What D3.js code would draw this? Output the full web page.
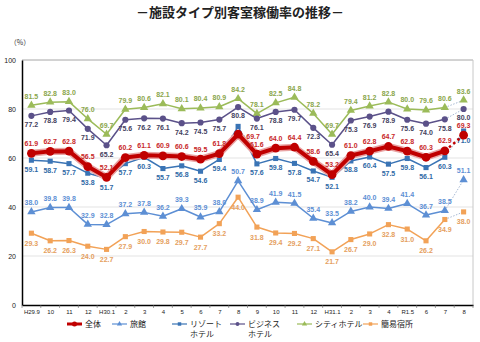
<!DOCTYPE html>
<html>
<head>
<meta charset="utf-8">
<script src="https://cdn.jsdelivr.net/npm/d3@7"></script>
<style>
  body { margin: 0; background: #fff; }
  text { font-family: "Liberation Sans", Arial, sans-serif; }
  .jp { font-family: "Noto Sans CJK JP", sans-serif; }
</style>
</head>
<body>
<svg id="chart" width="480" height="342"></svg>
<script>
// 月ラベル
const months = ["H29.9","10","11","12","H30.1","2","3","4","5","6","7","8","9","10","11","12","H31.1","2","3","4","R1.5","6","7","8"];
const yTicks = [0, 20, 40, 60, 80, 100];

// 施設タイプ別の稼働率 (%)
const zentai   = [61.9,62.7,62.8,56.5,52.1,60.2,61.1,60.9,60.6,59.5,61.8,69.7,61.6,64.0,64.4,58.6,53.2,61.0,62.8,64.7,62.8,60.3,62.9,69.3];
const ryokan   = [38.0,39.8,39.8,32.9,32.8,37.2,37.8,36.2,39.3,35.9,38.0,50.7,38.9,41.9,41.5,35.4,33.5,38.2,40.0,39.4,41.4,36.7,38.5,51.1];
const resort   = [59.1,58.7,57.7,53.8,51.7,57.7,60.3,55.7,56.8,54.6,59.4,72.9,57.6,59.8,57.8,54.7,52.1,58.8,60.4,57.5,59.8,56.1,60.3,71.0];
const business = [77.2,78.8,79.4,71.9,65.2,75.6,76.2,76.1,74.2,74.5,75.7,80.8,76.1,78.8,79.7,72.3,65.4,75.3,76.9,78.9,75.6,74.0,75.8,80.0];
const city     = [81.5,82.8,83.0,76.0,69.7,79.9,80.6,82.1,80.1,80.4,80.9,84.2,78.1,82.5,84.8,78.2,69.7,79.4,81.2,82.8,80.0,79.6,80.6,83.6];
const kani     = [29.3,26.2,26.3,24.0,22.7,27.9,30.0,29.8,29.7,27.7,33.2,44.0,31.8,29.4,29.2,27.1,21.7,26.7,29.0,32.8,31.0,26.2,34.9,38.0];

const series = [
  { key: "city",     name: ["シティホテル"],   values: city,     color: "#9bbb59", label: "#8aa64c", sym: d3.symbolTriangle, size: 30, w: 1.5, dy: -9 },
  { key: "business", name: ["ビジネス","ホテル"], values: business, color: "#5b5189", label: "#44415e", sym: d3.symbolCircle,   size: 30, w: 1.5, dy: 9 },
  { key: "resort",   name: ["リゾート","ホテル"], values: resort,   color: "#3a74b5", label: "#2f69a6", sym: d3.symbolSquare,   size: 26, w: 1.5, dy: 9 },
  { key: "ryokan",   name: ["旅館"],           values: ryokan,   color: "#5d8fd4", label: "#5d8fd4", sym: d3.symbolTriangle, size: 30, w: 1.5, dy: -9 },
  { key: "kani",     name: ["簡易宿所"],       values: kani,     color: "#f2a257", label: "#e5a060", sym: d3.symbolSquare,   size: 26, w: 1.5, dy: 10 },
  { key: "zentai",   name: ["全体"],           values: zentai,   color: "#c00000", label: "#c8282a", sym: d3.symbolCircle,   size: 60, w: 4,   dy: -10 }
];

// 個別のラベル位置調整
const labelShift = {
  "zentai-11": [15, 12],
  "resort-11": [0, 2]
};

const margin = { top: 60, right: 7, bottom: 37, left: 22 };
const W = 480, H = 342;
const svg = d3.select("#chart");

const x = d3.scalePoint().domain(d3.range(months.length)).range([margin.left, W - margin.right]).padding(0.5);
const y = d3.scaleLinear().domain([0, 100]).range([H - margin.bottom, margin.top]);

// タイトル
svg.append("text").attr("class", "jp")
  .attr("x", 240).attr("y", 17).attr("text-anchor", "middle")
  .attr("font-size", 13).attr("font-weight", "bold").attr("fill", "#222")
  .text("－施設タイプ別客室稼働率の推移－");

svg.append("text").attr("class", "jp")
  .attr("x", 20).attr("y", 45).attr("text-anchor", "middle")
  .attr("font-size", 7).attr("fill", "#333").text("（%）");

// グリッド
svg.append("g").selectAll("line").data(yTicks.filter(d => d > 0)).join("line")
  .attr("x1", margin.left).attr("x2", W - margin.right)
  .attr("y1", d => y(d)).attr("y2", d => y(d))
  .attr("stroke", d => d === 100 ? "#a6a6a6" : "#e3e3e3").attr("stroke-width", 1);

svg.append("line")
  .attr("x1", W - margin.right).attr("x2", W - margin.right)
  .attr("y1", y(100)).attr("y2", y(0)).attr("stroke", "#c8c8c8");

// 軸
const axisY = d3.axisLeft(y).tickValues(yTicks).tickSize(0).tickPadding(6);
const gy = svg.append("g").attr("transform", `translate(${margin.left},0)`).call(axisY);
gy.select(".domain").attr("stroke", "#000").attr("stroke-width", 1.5);
gy.selectAll("text").attr("font-size", 7).attr("fill", "#222");

const axisX = d3.axisBottom(x).tickFormat(i => months[i]).tickSize(0).tickPadding(5);
const gx = svg.append("g").attr("transform", `translate(0,${y(0)})`).call(axisX);
gx.select(".domain").attr("stroke", "#000").attr("stroke-width", 1.5);
gx.selectAll("text").attr("font-size", 6).attr("fill", "#222");

// 区切り目盛
const step = x.step();
svg.append("g").selectAll("line").data(d3.range(months.length + 1)).join("line")
  .attr("x1", d => margin.left + d * step).attr("x2", d => margin.left + d * step)
  .attr("y1", y(0)).attr("y2", y(0) + 3).attr("stroke", "#666").attr("stroke-width", 0.6);

// 系列
const last = months.length - 1;
const line = d3.line().x((d, i) => x(i)).y(d => y(d));

series.forEach(s => {
  const g = svg.append("g");
  const solid = s.values.slice(0, last);
  if (s.key === "zentai") {
    g.append("path").attr("d", line(solid)).attr("fill", "none")
      .attr("stroke", "#e9a3a3").attr("stroke-width", 7).attr("stroke-linejoin", "round");
  }
  g.append("path").attr("d", line(solid)).attr("fill", "none")
    .attr("stroke", s.color).attr("stroke-width", s.w).attr("stroke-linejoin", "round");
  g.append("line")
    .attr("x1", x(last - 1)).attr("y1", y(s.values[last - 1]))
    .attr("x2", x(last)).attr("y2", y(s.values[last]))
    .attr("stroke", s.key === "zentai" ? s.color : "#8fa6c8")
    .attr("stroke-width", s.key === "zentai" ? 2.5 : 0.8)
    .attr("stroke-dasharray", s.key === "zentai" ? "2.5,3" : "1.5,1.5");

  g.selectAll("path.mk").data(s.values).join("path").attr("class", "mk")
    .attr("transform", (d, i) => `translate(${x(i)},${y(d)})`)
    .attr("d", d3.symbol().type(s.sym).size(s.size))
    .attr("fill", s.color);

  g.selectAll("text").data(s.values).join("text")
    .attr("x", (d, i) => x(i) + (labelShift[s.key + "-" + i] || [0, 0])[0])
    .attr("y", (d, i) => y(d) + s.dy + (labelShift[s.key + "-" + i] || [0, 0])[1])
    .attr("dy", "0.35em").attr("text-anchor", "middle")
    .attr("font-size", 7).attr("font-weight", "bold").attr("fill", s.label)
    .text(d => d.toFixed(1));
});

// 凡例
const legendOrder = ["zentai", "ryokan", "resort", "business", "city", "kani"];
const legendX = [67, 112, 172, 230, 297, 363];
const lg = svg.append("g").attr("transform", "translate(0,324)");
legendOrder.forEach((k, j) => {
  const s = series.find(d => d.key === k);
  const it = lg.append("g").attr("transform", `translate(${legendX[j]},0)`);
  it.append("line").attr("x1", 0).attr("x2", 15).attr("y1", 0).attr("y2", 0)
    .attr("stroke", s.color).attr("stroke-width", k === "zentai" ? 3 : 1.2);
  it.append("path").attr("transform", "translate(7.5,0)")
    .attr("d", d3.symbol().type(s.sym).size(k === "zentai" ? 20 : 12)).attr("fill", s.color);
  it.selectAll("text").data(s.name).join("text").attr("class", "jp")
    .attr("x", 18).attr("y", (d, i) => i * 10).attr("dy", "0.35em")
    .attr("font-size", 8).attr("fill", "#222")
    .text(d => d);
});
</script>
</body>
</html>
